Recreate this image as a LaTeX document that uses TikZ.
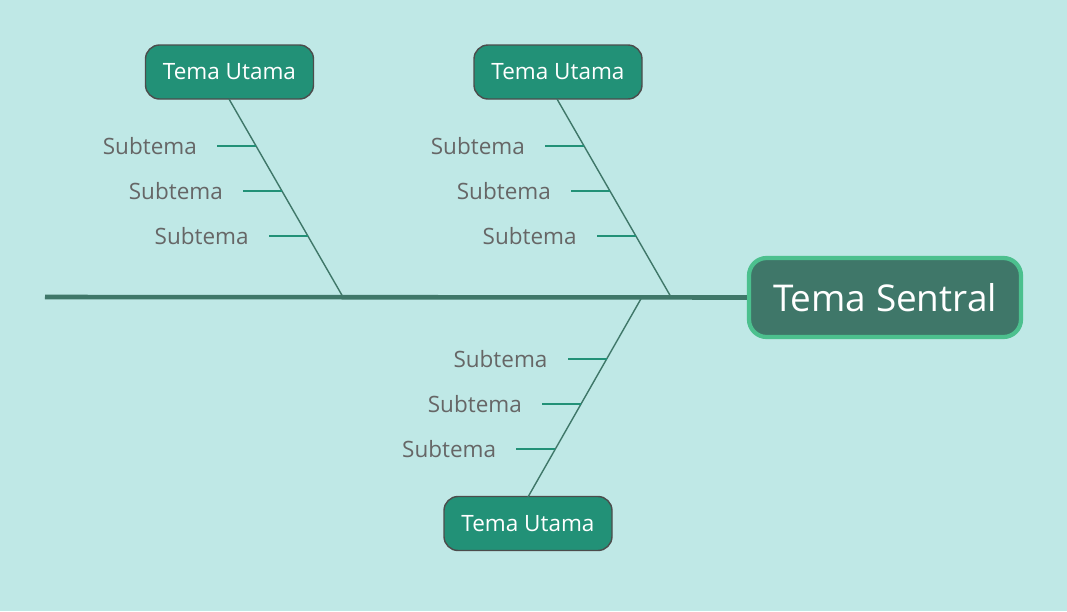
\documentclass[tikz,border=0pt]{standalone}
\usepackage{fontspec}
\setmainfont{Open Sans}
\usetikzlibrary{calc,positioning}
\definecolor{bgcol}{HTML}{BFE8E6}
\definecolor{topiccol}{HTML}{229177}
\definecolor{centercol}{HTML}{3F7769}
\definecolor{centerline}{HTML}{4CC08E}
\definecolor{linecol}{HTML}{3F7769}
\definecolor{subcol}{HTML}{666666}
\tikzset{
  maintopic/.style={draw=black!70, fill=topiccol, rounded corners=4pt, text=white,
    minimum width=1.68cm, minimum height=0.54cm, font=\fontsize{6.4}{7}\selectfont},
  centraltopic/.style={draw=centerline, line width=1.2pt, fill=centercol, rounded corners=5pt,
    text=white, minimum width=2.72cm, minimum height=0.79cm, font=\fontsize{10.5}{12}\selectfont},
  subtopic/.style={text=subcol, font=\fontsize{6.4}{7}\selectfont, anchor=east, inner sep=1pt},
  bone/.style={draw=linecol, line width=0.4pt},
  tick/.style={draw=topiccol, line width=0.4pt}
}
\begin{document}
\begin{tikzpicture}
  \fill[bgcol] (0,0) rectangle (10.67,6.11);
  \useasboundingbox (0,0) rectangle (10.67,6.11);

  % spine and centre
  \node [centraltopic] (central) at (8.85,3.135) {Tema Sentral};
  \coordinate (tail) at (0.45,3.14);
  \draw [bone, line width=1.3pt] (tail) -- (central.west);

  % main topics
  \node [maintopic] (topicA) at (2.295,5.39) {Tema Utama};
  \node [maintopic] (topicB) at (5.58,5.39) {Tema Utama};
  \node [maintopic] (topicC) at (5.28,0.875) {Tema Utama};
  \coordinate (jointA) at (3.43,3.14);
  \coordinate (jointB) at (6.71,3.14);
  \coordinate (jointC) at (6.42,3.14);
  \coordinate (footA) at (2.29,5.12);
  \coordinate (footB) at (5.57,5.12);
  \coordinate (footC) at (5.28,1.14);
  \draw [bone] (footA) -- (jointA);
  \draw [bone] (footB) -- (jointB);
  \draw [bone] (footC) -- (jointC);

  % subtopics
  \foreach \f/\g [count=\i] in {footA/jointA, footB/jointB} {
    \foreach \t in {0.237,0.465,0.692} {
      \coordinate (on) at ($(\f)!\t!(\g)$);
      \draw [tick] (on) -- ++(-0.39,0) coordinate (off);
      \node [subtopic] at ($(off)+(-0.16,0)$) {Subtema};
    }
  }
  \foreach \t in {0.31,0.535,0.76} {
    \coordinate (on) at ($(jointC)!\t!(footC)$);
    \draw [tick] (on) -- ++(-0.39,0) coordinate (off);
    \node [subtopic] at ($(off)+(-0.16,0)$) {Subtema};
  }
\end{tikzpicture}
\end{document}
